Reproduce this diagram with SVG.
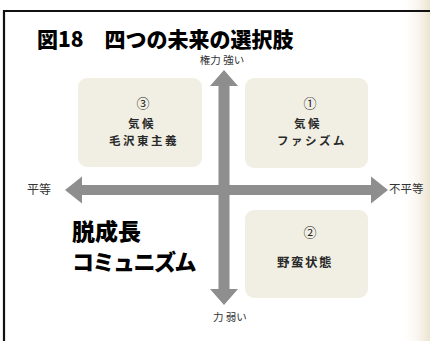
<svg xmlns="http://www.w3.org/2000/svg" width="430" height="341" viewBox="0 0 430 341">
<defs>
<linearGradient id="edge" x1="0" y1="0" x2="1" y2="0">
<stop offset="0" stop-color="#ffffff" stop-opacity="0"/>
<stop offset="1" stop-color="#ece3cf"/>
</linearGradient>
<style>
.frame{fill:none;stroke:#111;stroke-width:2.2}
.box{fill:#f1efe3}
.arrow{fill:#8e8e8e}
.title{font-family:"Noto Sans CJK JP","Noto Sans",sans-serif;font-weight:900;font-size:21px;fill:#000}
.axis{font-family:"Noto Sans CJK JP","Noto Sans",sans-serif;font-size:10.5px;fill:#333}
.num{font-family:"Noto Sans CJK JP","Noto Sans",sans-serif;font-size:13px;fill:#222;text-anchor:middle}
.lbl{font-family:"Noto Sans CJK JP","Noto Sans",sans-serif;font-weight:700;font-size:11.5px;fill:#2a2a2a;text-anchor:middle;letter-spacing:2.5px}
.lbl2{font-family:"Noto Sans CJK JP","Noto Sans",sans-serif;font-weight:700;font-size:12.5px;fill:#2a2a2a;text-anchor:middle;letter-spacing:1.5px}
.big{font-family:"Noto Sans CJK JP","Noto Sans",sans-serif;font-weight:900;fill:#000}
</style>
</defs>
<rect width="430" height="341" fill="#ffffff"/>
<rect x="400" y="0" width="30" height="341" fill="url(#edge)"/>
<path class="frame" d="M4,345 V11 H432"/>
<g id="title"><text class="title" x="37" y="47">図18　四つの未来の選択肢</text></g>

<g id="node-3">
<rect class="box" x="78" y="78" width="124" height="89" rx="9"/>
<text class="num" x="143" y="108">③</text>
<text class="lbl" x="142" y="128">気候</text>
<text class="lbl" x="144" y="145">毛沢東主義</text>
</g>
<g id="node-1">
<rect class="box" x="245" y="78" width="123" height="90" rx="9"/>
<text class="num" x="310" y="108">①</text>
<text class="lbl" x="308" y="128">気候</text>
<text class="lbl" x="312" y="145">ファシズム</text>
</g>
<g id="node-2">
<rect class="box" x="245" y="210" width="123" height="88" rx="9"/>
<text class="num" x="310" y="237">②</text>
<text class="lbl2" x="305" y="267">野蛮状態</text>
</g>

<g id="connectors">
<polygon class="arrow" points="65,190 82,176.5 82,185 371,185 371,176.5 388,190 371,203.5 371,195 82,195 82,203.5"/>
<polygon class="arrow" points="224,70 238,86 229.5,86 229.5,289 238,289 224,305 210,289 218.5,289 218.5,86 210,86"/>
</g>

<g id="axis-labels">
<text class="axis" x="222" y="64" text-anchor="middle">権力 強い</text>
<text class="axis" x="213" y="321">力 弱い</text>
<text class="axis" x="27" y="194" style="font-size:12px">平等</text>
<text class="axis" x="389" y="193" style="font-size:11.5px">不平等</text>
</g>

<g id="node-degrowth">
<text class="big" x="72" y="240" style="font-size:23px">脱成長</text>
<text class="big" x="72" y="270" style="font-size:22px;letter-spacing:-1.5px">コミュニズム</text>
</g>
</svg>
